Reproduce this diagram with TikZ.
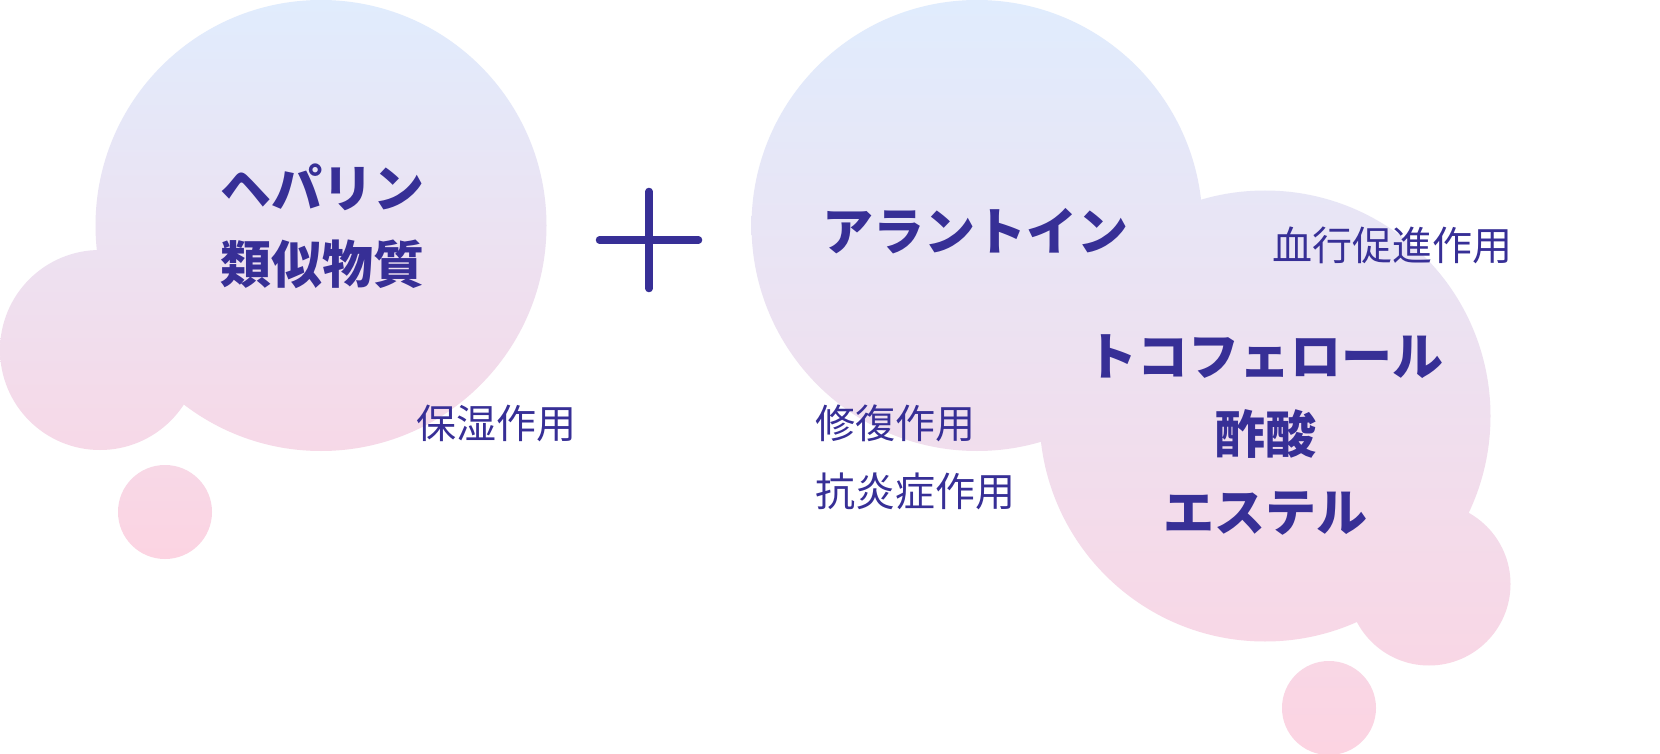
\documentclass[tikz,border=0pt]{standalone}
\usepackage{fontspec}
\usepackage{xcolor}
\usepackage{tikz}
\usetikzlibrary{positioning}
\setmainfont{Noto Sans CJK JP}
\definecolor{CloudTop}{RGB}{224, 236, 253}
\definecolor{CloudBottom}{RGB}{252, 212, 226}
\definecolor{CloudInk}{RGB}{55, 47, 150}

\begin{document}
\begin{tikzpicture}[x=1pt, y=-1pt,
    namebig/.style={text=CloudInk, align=center, inner sep=0pt,
                    font=\fontsize{51}{76}\selectfont\bfseries},
    effect/.style={text=CloudInk, inner sep=0pt,
                   font=\fontsize{40}{68}\selectfont},
    plusbar/.style={draw=CloudInk, line width=7.5pt, line cap=round}]
  \useasboundingbox (0,0) rectangle (1660,754);
  \fill[white] (0,0) rectangle (1660,754);

  % left cloud
  \shade[top color=CloudTop, bottom color=CloudBottom]
    (321,225.5) circle (225.5pt) (100,350) circle (100pt) (165,512) circle (47pt);
  % right cloud
  \shade[top color=CloudTop, bottom color=CloudBottom]
    (977,225.5) circle (225.5pt) (1265,416) circle (225.5pt)
    (1429,584) circle (81.5pt) (1329,708) circle (47pt);

  \node[namebig] (heparin) at (322,226) {ヘパリン\\類似物質};
  \node[effect] (moist) at (496,423) {保湿作用};

  % plus sign
  \coordinate (plus) at (649,240);
  \draw[plusbar] ([xshift=-49.5pt]plus) -- ([xshift=49.5pt]plus);
  \draw[plusbar] ([yshift=48.5pt]plus) -- ([yshift=-48.5pt]plus);

  \node[namebig] (allantoin) at (975,231) {アラントイン};
  \node[effect] (blood) at (1392,245) {血行促進作用};
  \node[namebig, font=\fontsize{51}{78}\selectfont\bfseries] (tocopherol) at (1265,435)
    {トコフェロール\\酢酸\\エステル};
  \node[effect, align=left, anchor=west] (repair) at (815,457) {修復作用\\抗炎症作用};
\end{tikzpicture}
\end{document}
